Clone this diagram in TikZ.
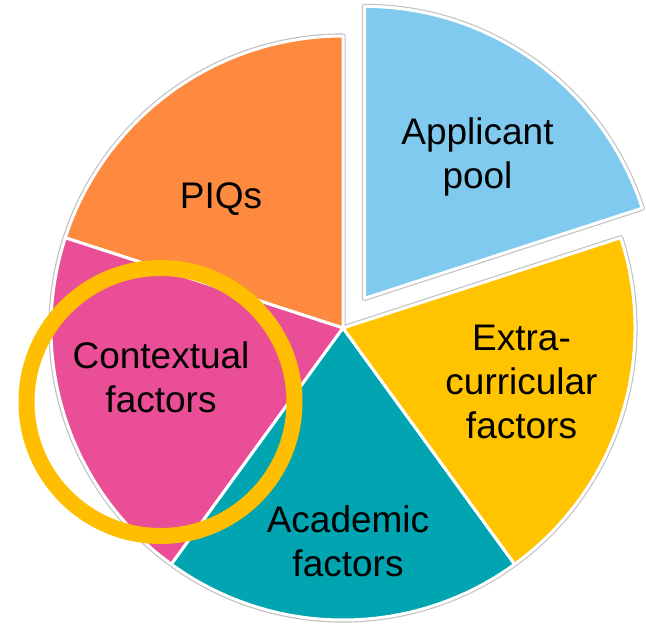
\documentclass[tikz,border=0pt]{standalone}
\usepackage{fontspec}
\setmainfont{Liberation Sans}
\usetikzlibrary{calc}

\definecolor{poolblue}{RGB}{128,202,239}
\definecolor{piqorange}{RGB}{253,138,62}
\definecolor{contextpink}{RGB}{233,78,151}
\definecolor{academicteal}{RGB}{0,165,177}
\definecolor{extrayellow}{RGB}{255,195,0}
\definecolor{ringgold}{RGB}{255,190,0}

\begin{document}
\begin{tikzpicture}[x=0.75pt, y=0.75pt,
  wedge/.style={draw=white, line width=2.25pt, line join=round},
  halo/.style={draw=black!25, line width=3.9pt, line join=round},
  caption/.style={font=\fontsize{27.75}{33}\selectfont, align=center, text=black}]
\useasboundingbox (-343,-297) rectangle (303,328);
\coordinate (origin) at (0,0);
\coordinate (apex) at (54:36.6);
% Faint grey edge round the pie and the pulled-out slice
\draw[halo] (origin) -- (90:292) arc [start angle=90, end angle=378, radius=292] -- cycle;
\draw[halo] (apex) -- +(18:292) arc [start angle=18, end angle=90, radius=292] -- cycle;
% Draw slices
\filldraw[wedge, fill=piqorange] (origin) -- (90:292) arc [start angle=90, end angle=162, radius=292] -- cycle;
\filldraw[wedge, fill=contextpink] (origin) -- (162:292) arc [start angle=162, end angle=234, radius=292] -- cycle;
\filldraw[wedge, fill=academicteal] (origin) -- (234:292) arc [start angle=234, end angle=306, radius=292] -- cycle;
\filldraw[wedge, fill=extrayellow] (origin) -- (306:292) arc [start angle=306, end angle=378, radius=292] -- cycle;
\filldraw[wedge, fill=poolblue] (apex) -- +(18:292) arc [start angle=18, end angle=90, radius=292] -- cycle;
% Ring round the contextual slice
\coordinate (ringcentre) at (-182.5,-74);
\draw[ringgold, line width=12pt] (ringcentre) circle [radius=134];
% Slice names
\node[caption] (pool) at (134.5,170.6) {Applicant\\pool};
\node[caption] (piqs) at (-122,129) {PIQs};
\node[caption] (context) at (-182,-49.5) {Contextual\\factors};
\node[caption] (academic) at (5,-212.8) {Academic\\factors};
\node[caption] (extra) at (178.5,-53.7) {Extra-\\curricular\\factors};
\end{tikzpicture}
\end{document}
